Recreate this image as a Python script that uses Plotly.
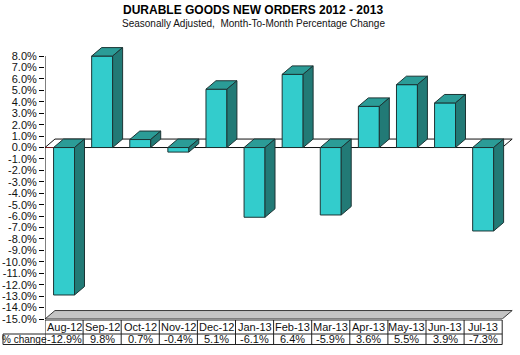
import plotly.graph_objects as go

# ---- data ----
months = ["Aug-12", "Sep-12", "Oct-12", "Nov-12", "Dec-12", "Jan-13",
          "Feb-13", "Mar-13", "Apr-13", "May-13", "Jun-13", "Jul-13"]
pct_change = [-12.9, 9.8, 0.7, -0.4, 5.1, -6.1, 6.4, -5.9, 3.6, 5.5, 3.9, -7.3]
row_label = "% change"
y_ticks = list(range(-15, 9))
y_tick_labels = [("%.1f%%" % v) for v in y_ticks]

title_text = "DURABLE GOODS NEW ORDERS 2012 - 2013"
subtitle_text = "Seasonally Adjusted,  Month-To-Month Percentage Change"

# ---- style ----
W, H = 520, 355
Y_MIN, Y_MAX = -15, 8
DX, DY = 0.262, 0.74          # 3D depth offset (category units, % units)
BAR_W = 0.55
FRONT = "#33CCCC"
TOP = "#2B9C97"
SIDE = "#227A76"
EDGE = "#1c3434"
FONT = "Liberation Sans, Arial, sans-serif"

n = len(months)
x_range = [0, 470 / 38.1]
y_range = [Y_MIN, 9.3]
px_top = 147.5 - 9.3 * 11.43
px_bot = 319.0
ydom = [(H - px_bot) / H, (H - px_top) / H]

fig = go.Figure()

def poly(xs, ys, fill, line_color=EDGE, width=1):
    fig.add_trace(go.Scatter(
        x=xs + [xs[0]], y=ys + [ys[0]], mode="lines", fill="toself",
        fillcolor=fill, line=dict(color=line_color, width=width),
        hoverinfo="skip", showlegend=False))

def line(xs, ys, color, width=1):
    fig.add_trace(go.Scatter(x=xs, y=ys, mode="lines",
                             line=dict(color=color, width=width),
                             hoverinfo="skip", showlegend=False))

# floor
poly([0, n, n + DX, DX], [Y_MIN, Y_MIN, Y_MIN + DY, Y_MIN + DY], "#C4C4C4", "#3a3a3a")
# zero plane
poly([0, n, n + DX, DX], [0, 0, DY, DY], "white", "#111111")
line([0, 0.5], [0, 0], "#7a1a1a", 1.2)
# y axis line
line([0, 0], [Y_MIN, Y_MAX], "#000000", 1)

# bars
for i, v in enumerate(pct_change):
    vc = max(min(v, Y_MAX), Y_MIN)
    hi, lo = max(vc, 0), min(vc, 0)
    x0 = i + 0.5 - BAR_W / 2
    x1 = i + 0.5 + BAR_W / 2
    poly([x0, x1, x1, x0], [lo, lo, hi, hi], FRONT)
    poly([x0, x1, x1 + DX, x0 + DX], [hi, hi, hi + DY, hi + DY], TOP)
    poly([x1, x1, x1 + DX, x1 + DX], [lo, hi, hi + DY, lo + DY], SIDE)

# ---- data table ----
t_top, t_mid, t_bot = (H - 320) / H, (H - 334) / H, (H - 344.5) / H
shapes = []
def seg(x0, y0, x1, y1, xref="x"):
    shapes.append(dict(type="line", xref=xref, yref="paper", x0=x0, y0=y0,
                       x1=x1, y1=y1, line=dict(color="#222222", width=1)))
seg(0, t_top, n, t_top)
seg(0, t_mid, n, t_mid)
seg(0, t_bot, n, t_bot)
for i in range(n + 1):
    seg(i, t_top, i, t_bot)
# row label cell
lx0, lx1 = 3 / W, 45 / W
seg(lx0, t_mid, lx1, t_mid, "paper")
seg(lx0, t_bot, lx1, t_bot, "paper")
seg(lx0, t_mid, lx0, t_bot, "paper")

annotations = []
for i, (m, v) in enumerate(zip(months, pct_change)):
    annotations.append(dict(x=i + 0.5, y=(t_top + t_mid) / 2, xref="x", yref="paper",
                            text=m, showarrow=False, xanchor="center", yanchor="middle",
                            font=dict(family=FONT, size=11, color="#111")))
    annotations.append(dict(x=i + 0.5, y=(t_mid + t_bot) / 2, xref="x", yref="paper",
                            text=("%.1f%%" % v), showarrow=False, xanchor="center",
                            yanchor="middle",
                            font=dict(family=FONT, size=11, color="#111")))
annotations.append(dict(x=(lx0 + lx1) / 2, y=(t_mid + t_bot) / 2, xref="paper", yref="paper",
                        text=row_label, showarrow=False, xanchor="center", yanchor="middle",
                        font=dict(family=FONT, size=10, color="#111")))
annotations.append(dict(x=253 / W, y=(H - 10) / H, xref="paper", yref="paper",
                        text="<b>" + title_text + "</b>", showarrow=False,
                        xanchor="center", yanchor="middle",
                        font=dict(family=FONT, size=12, color="#000")))
annotations.append(dict(x=253 / W, y=(H - 23.5) / H, xref="paper", yref="paper",
                        text=subtitle_text, showarrow=False, xanchor="center", yanchor="middle",
                        font=dict(family=FONT, size=10, color="#111")))

fig.update_layout(
    width=W, height=H, margin=dict(l=0, r=0, t=0, b=0, autoexpand=False),
    paper_bgcolor="white", plot_bgcolor="white",
    xaxis=dict(domain=[45 / W, 515 / W], range=x_range, visible=False, fixedrange=True,
               automargin=False),
    yaxis=dict(domain=ydom, range=y_range, tickvals=y_ticks, ticktext=y_tick_labels,
               ticks="outside", ticklen=5, tickcolor="#000", showgrid=False,
               zeroline=False, showline=False, fixedrange=True, automargin=False,
               tickfont=dict(family=FONT, size=11, color="#111")),
    shapes=shapes, annotations=annotations, showlegend=False,
)

fig.write_html("out.html", config={"displayModeBar": False},
               post_script="document.body.style.margin='0';")
